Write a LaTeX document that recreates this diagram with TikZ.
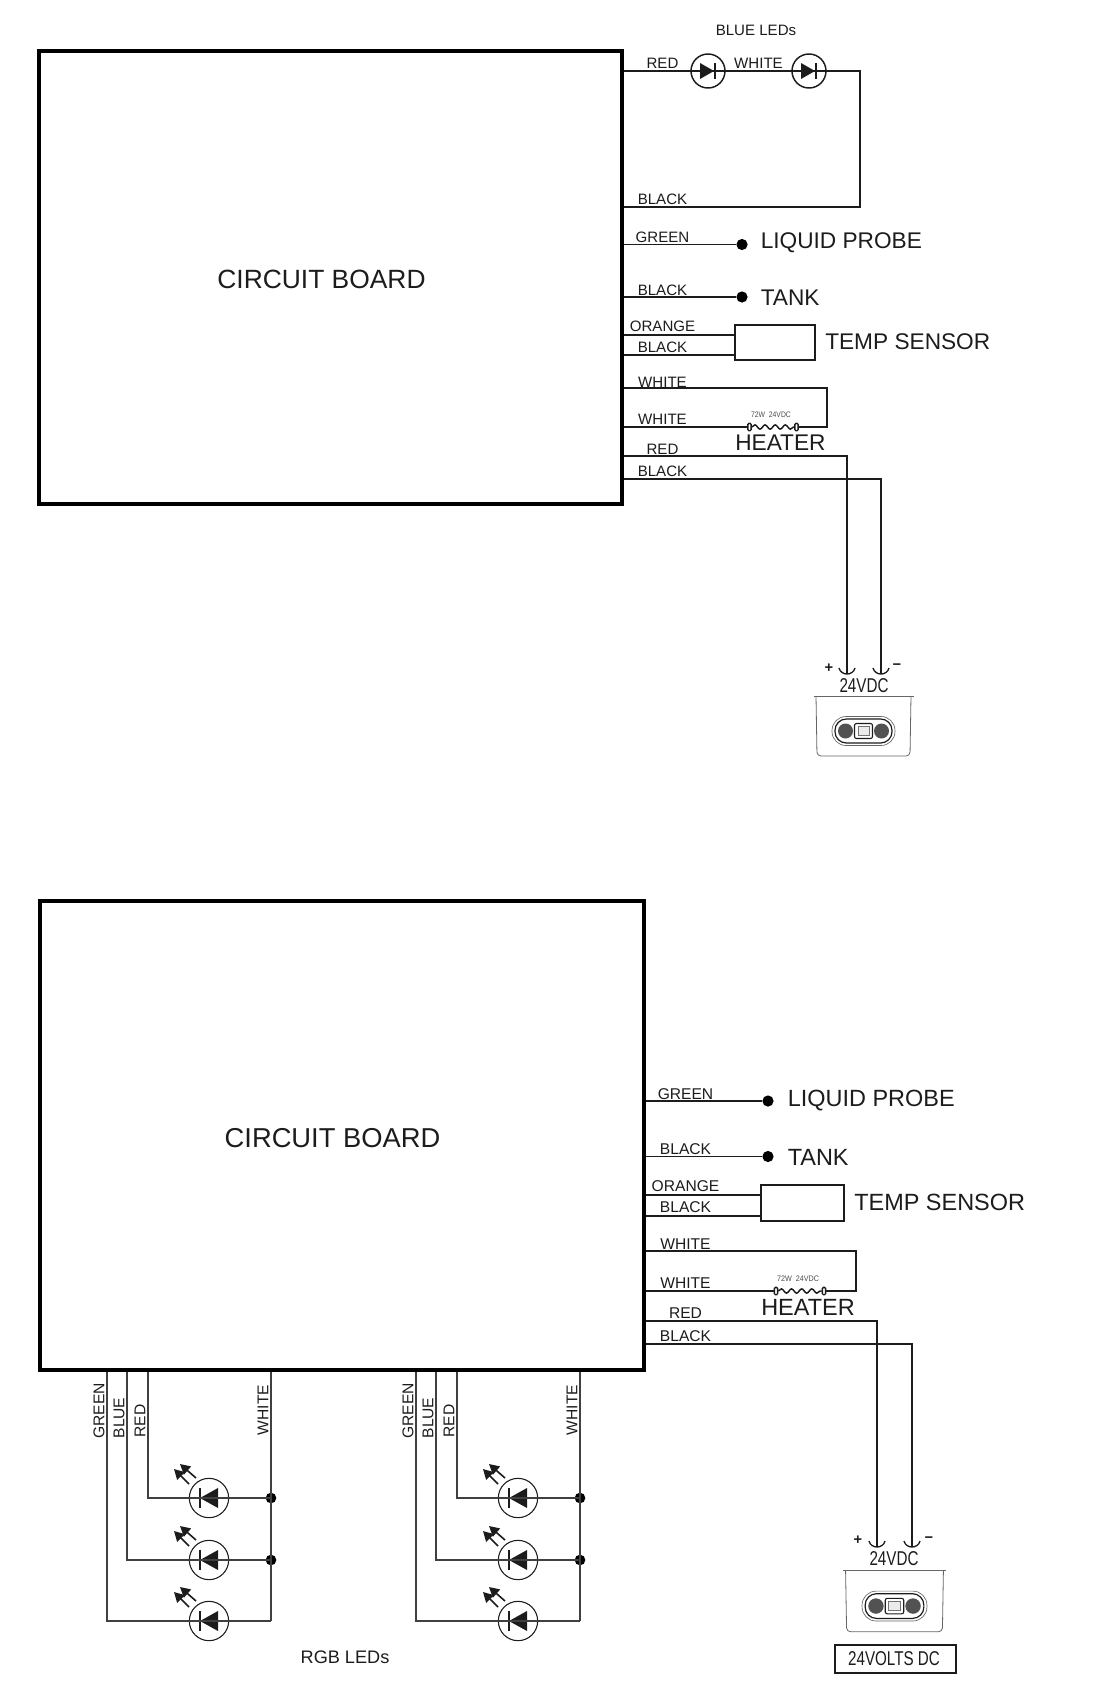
\documentclass[tikz,border=0pt]{standalone}
\usepackage{fontspec}
\setmainfont{Liberation Sans}
\usetikzlibrary{arrows.meta,decorations.pathmorphing}
\definecolor{ink}{HTML}{1C1C1C}
\newcommand{\condensed}[1]{\scalebox{0.76}[1]{#1}}
\tikzset{
  bluediode/.pic={
    \fill[ink] (-8,-8) -- (6,0) -- (-8,8) -- cycle;
    \draw[ink,line width=1pt] (7,-8) -- (7,8);
  },
  rgbdiode/.pic={
    \fill[ink] (9,-10) -- (-9,0) -- (9,10) -- cycle;
    \draw[ink,line width=.8pt] (-9,-10) -- (-9,10);
    \draw[ink,line width=1.2pt,-{Triangle[length=7.5pt,width=8pt]}] (-20,-14) -- (-35,-29);
    \draw[ink,line width=1.2pt,-{Triangle[length=7.5pt,width=8pt]}] (-13,-20) -- (-29,-34);
  },
  plugcup/.pic={
    \draw[ink,line width=1pt] (-8,-6) .. controls (-6,2) and (6,2) .. (8,-6);
  },
  powerbrick/.pic={
    \draw[black!60,line width=.7pt] (-50,0) -- (50,0);
    \draw[black!60,line width=.6pt,rounded corners=3pt] (-47.5,0) -- (-46.5,60) -- (46.5,60) -- (47.5,0);
    \draw[black!60,line width=.5pt,rounded corners=10.5pt] (-31.5,20.5) rectangle (31.5,49.5);
    \draw[ink,line width=.9pt,rounded corners=8.5pt] (-28.5,23) rectangle (28.5,47);
    \fill[black!68] (-18,35) circle[radius=7.5];
    \fill[black!68] (18,35) circle[radius=7.5];
    \draw[ink,line width=.8pt,fill=white,rounded corners=1.5pt] (-9,27.5) rectangle (9,42.5);
    \draw[black!55,line width=.6pt,fill=black!8] (-5.5,30.5) rectangle (5.5,39.5);
  }
}
\begin{document}
\begin{tikzpicture}[x=0.75pt,y=-0.75pt]
\tikzstyle{every node}+=[inner sep=0pt,text=ink]
\tikzstyle{wire}=[draw=ink,line width=1pt]
\tikzstyle{ledwire}=[draw=black!75,line width=.85pt]
\tikzstyle{boardbox}=[draw=black,line width=3pt]
\tikzstyle{boardtext}=[font=\fontsize{20.5}{24}\selectfont]
\tikzstyle{boardtexttop}=[font=\fontsize{19.8}{24}\selectfont]
\tikzstyle{wiretext}=[font=\fontsize{11.3}{13}\selectfont]
\tikzstyle{wiretextlow}=[font=\fontsize{11.7}{14}\selectfont]
\tikzstyle{parttext}=[anchor=west,font=\fontsize{17}{20}\selectfont]
\tikzstyle{parttextlow}=[anchor=west,font=\fontsize{17.6}{20}\selectfont]
\tikzstyle{probedot}=[circle,fill=black,minimum size=8.4pt]
\tikzstyle{sensorbox}=[draw=ink,line width=1pt]
\tikzstyle{blueled}=[circle,draw=ink,line width=1.1pt,minimum size=25.5pt]
\tikzstyle{rgbled}=[circle,draw=ink,line width=.8pt,minimum size=29.5pt]
\tikzstyle{junction}=[circle,fill=black,minimum size=8pt]
\tikzstyle{terminal}=[draw=ink,line width=1pt,rounded corners=.8pt,minimum width=2.4pt,minimum height=5.5pt]
\tikzstyle{heaterwave}=[draw=ink,line width=1.1pt,decorate,decoration={snake,amplitude=1.6pt,segment length=7.6pt}]
\tikzstyle{heaterrating}=[text=black!70,font=\fontsize{6}{7}\selectfont]
\tikzstyle{voltstext}=[font=\fontsize{15}{18}\selectfont]
\tikzstyle{signtext}=[font=\fontsize{11}{13}\selectfont\bfseries]
\useasboundingbox (0,0) rectangle (1116,1696);

% upper board
\node (boardA) [boardbox,minimum width=437.25pt,minimum height=339.75pt] at (330.5,277.5) {};
\node (boardtextA) [boardtexttop] at (321.5,279) {CIRCUIT BOARD};

\node (bluetitle) [wiretext] at (756,30.5) {BLUE LEDs};
\node (ledA) [blueled] at (708,71) {};
\node (ledB) [blueled] at (809,71) {};
\pic at (ledA) {bluediode};
\pic at (ledB) {bluediode};
\coordinate (turnA) at (860,71);
\coordinate (turnB) at (860,207);
\node (redA) [wiretext] at (662.5,63) {RED};
\node (whiteA) [wiretext] at (758.5,63) {WHITE};
\node (blackA) [wiretext] at (662.5,199) {BLACK};
\draw[wire] (boardA.east |- ledA) -- (ledA.center) -- (ledB.center) -- (turnA) -- (turnB) -- (boardA.east |- turnB);

\node (greenA) [wiretext] at (662.5,237) {GREEN};
\node (probeA) [probedot] at (742,244.5) {};
\node (probetextA) [parttext] at (760.5,243) {LIQUID PROBE};
\node (blackB) [wiretext] at (662.5,290) {BLACK};
\node (tankA) [probedot] at (742,297) {};
\node (tanktextA) [parttext] at (760.5,298) {TANK};
\path[wire]
  (boardA.east |- probeA) edge (probeA)
  (boardA.east |- tankA) edge (tankA)
;

\node (sensorA) [sensorbox,minimum width=60pt,minimum height=26.25pt] at (775,342.5) {};
\node (sensortextA) [parttext] at (825,342) {TEMP SENSOR};
\node (orangeA) [wiretext] at (662.5,326.5) {ORANGE};
\node (blackC) [wiretext] at (662.5,347) {BLACK};
\coordinate (sensorpinA) at (735,335);
\coordinate (sensorpinB) at (735,355);
\path[wire]
  (boardA.east |- sensorpinA) edge (sensorpinA)
  (boardA.east |- sensorpinB) edge (sensorpinB)
;

\node (whiteB) [wiretext] at (662.5,382) {WHITE};
\node (whiteC) [wiretext] at (662.5,419) {WHITE};
\node (heaterinA) [terminal] at (749.5,427) {};
\node (heateroutA) [terminal] at (796.5,427) {};
\node (ratingA) [heaterrating] at (771,415) {\scalebox{0.85}[1]{72W\ \ 24VDC}};
\node (heatertextA) [parttext] at (735,443) {HEATER};
\coordinate (heaterturnA) at (827,388);
\draw[wire] (boardA.east |- heaterinA) -- (heaterinA);
\draw[heaterwave] (heaterinA) -- (heateroutA);
\draw[wire] (heateroutA) -- (heaterturnA |- heateroutA) -- (heaterturnA) -- (boardA.east |- heaterturnA);

\node (redB) [wiretext] at (662.5,449) {RED};
\node (blackD) [wiretext] at (662.5,471) {BLACK};
\coordinate (plusA) at (847,674);
\coordinate (minusA) at (881,674);
\coordinate (brickA) at (863.5,696);
\draw[wire] (boardA.east |- 0,456) -- (plusA |- 0,456) -- (plusA);
\draw[wire] (boardA.east |- 0,479) -- (minusA |- 0,479) -- (minusA);
\pic at (plusA) {plugcup};
\pic at (minusA) {plugcup};
\node (plussignA) [signtext] at (829,668) {+};
\node (minussignA) [signtext] at (897,667) {−};
\node (voltsA) [voltstext] at (864,686) {\condensed{24VDC}};
\pic at (brickA) {powerbrick};

% lower board
\node (boardB) [boardbox,minimum width=453pt,minimum height=351.75pt] at (342,1135.5) {};
\node (boardtextB) [boardtext] at (332.5,1138) {CIRCUIT BOARD};

\node (greenB) [wiretextlow] at (685.5,1094) {GREEN};
\node (probeB) [probedot] at (768,1101) {};
\node (probetextB) [parttextlow] at (787.5,1101) {LIQUID PROBE};
\node (blackE) [wiretextlow] at (685.5,1149) {BLACK};
\node (tankB) [probedot] at (768,1156.5) {};
\node (tanktextB) [parttextlow] at (787.5,1157) {TANK};
\path[wire]
  (boardB.east |- probeB) edge (probeB)
  (boardB.east |- tankB) edge (tankB)
;

\node (sensorB) [sensorbox,minimum width=62.25pt,minimum height=27pt] at (802.5,1203) {};
\node (sensortextB) [parttextlow] at (854,1202) {TEMP SENSOR};
\node (orangeB) [wiretextlow] at (685.5,1186) {ORANGE};
\node (blackF) [wiretextlow] at (685.5,1207.5) {BLACK};
\coordinate (sensorpinC) at (761,1195);
\coordinate (sensorpinD) at (761,1216);
\path[wire]
  (boardB.east |- sensorpinC) edge (sensorpinC)
  (boardB.east |- sensorpinD) edge (sensorpinD)
;

\node (whiteD) [wiretextlow] at (685.5,1244) {WHITE};
\node (whiteE) [wiretextlow] at (685.5,1283) {WHITE};
\node (heaterinB) [terminal] at (776,1291) {};
\node (heateroutB) [terminal] at (824,1291) {};
\node (ratingB) [heaterrating] at (798,1279) {\scalebox{0.9}[1]{72W\ \ 24VDC}};
\node (heatertextB) [parttextlow] at (761,1307) {HEATER};
\coordinate (heaterturnB) at (856,1251);
\draw[wire] (boardB.east |- heaterinB) -- (heaterinB);
\draw[heaterwave] (heaterinB) -- (heateroutB);
\draw[wire] (heateroutB) -- (heaterturnB |- heateroutB) -- (heaterturnB) -- (boardB.east |- heaterturnB);

\node (redC) [wiretextlow] at (685.5,1313) {RED};
\node (blackG) [wiretextlow] at (685.5,1336) {BLACK};
\coordinate (plusB) at (877,1547);
\coordinate (minusB) at (912,1547);
\coordinate (brickB) at (894.5,1570);
\draw[wire] (boardB.east |- 0,1321) -- (plusB |- 0,1321) -- (plusB);
\draw[wire] (boardB.east |- 0,1344) -- (minusB |- 0,1344) -- (minusB);
\pic at (plusB) {plugcup};
\pic at (minusB) {plugcup};
\node (plussignB) [signtext] at (858,1540) {+};
\node (minussignB) [signtext] at (929,1540) {−};
\node (voltsB) [voltstext] at (894,1559) {\condensed{24VDC}};
\pic[scale=1.03] at (brickB) {powerbrick};
\node (voltsbox) [draw=ink,line width=1.5pt,minimum width=90.75pt,minimum height=21pt] at (895.5,1659) {};
\node (voltslabel) [voltstext] at (894,1659) {\condensed{24VOLTS DC}};

% RGB leds, two groups
\foreach \grp/\shift in {a/0,b/309} {
  \foreach \row/\ypos in {1/1498,2/1560,3/1621} {
    \node (led\grp\row) [rgbled] at (209+\shift,\ypos) {};
    \pic at (led\grp\row) {rgbdiode};
  }
  \node (junc\grp1) [junction] at (271+\shift,1498) {};
  \node (junc\grp2) [junction] at (271+\shift,1560) {};
  \coordinate (tapred\grp) at (148+\shift,1498);
  \coordinate (tapblue\grp) at (127+\shift,1560);
  \coordinate (tapgreen\grp) at (107+\shift,1621);
  \coordinate (tapwhite\grp) at (271+\shift,1621);
  \node (green\grp) [wiretextlow,rotate=90] at (99+\shift,1411) {GREEN};
  \node (blue\grp) [wiretextlow,rotate=90] at (119+\shift,1418) {BLUE};
  \node (red\grp) [wiretextlow,rotate=90] at (140+\shift,1421) {RED};
  \node (white\grp) [wiretextlow,rotate=90] at (263+\shift,1410) {WHITE};
  \draw[ledwire] (boardB.south -| tapred\grp) -- (tapred\grp) -- (led\grp1.center) -- (junc\grp1.center);
  \draw[ledwire] (boardB.south -| tapblue\grp) -- (tapblue\grp) -- (led\grp2.center) -- (junc\grp2.center);
  \draw[ledwire] (boardB.south -| tapgreen\grp) -- (tapgreen\grp) -- (led\grp3.center) -- (tapwhite\grp);
  \draw[ledwire] (boardB.south -| tapwhite\grp) -- (tapwhite\grp);
}
\node (rgbtitle) [font=\fontsize{13.6}{16}\selectfont] at (345,1657) {RGB LEDs};
\end{tikzpicture}
\end{document}
